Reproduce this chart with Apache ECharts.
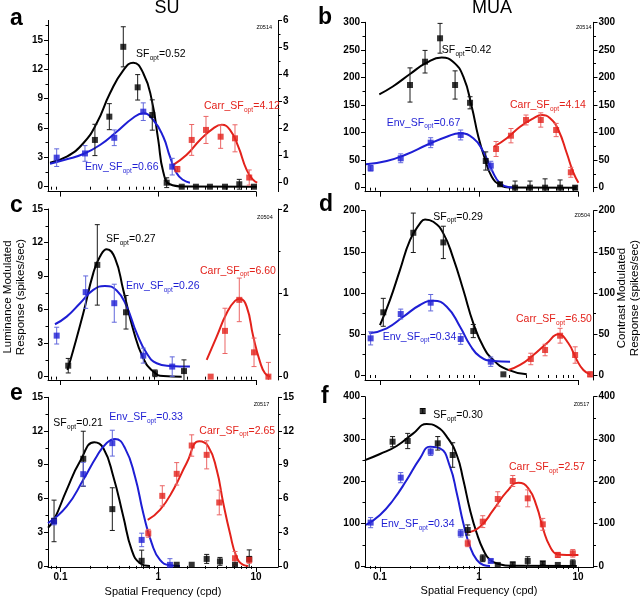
<!DOCTYPE html>
<html><head><meta charset="utf-8">
<script src="https://cdn.jsdelivr.net/npm/echarts@6/dist/echarts.min.js"></script>
<style>html,body{margin:0;padding:0;background:#fff}#c{width:640px;height:600px}</style>
</head><body><div id="c"></div>
<script>
// ---------------- DATA ----------------
// points: [spatial frequency (cpd), response, error]
const a_blackPts = [[0.225,4.78,1.6],[0.316,7.16,1.33],[0.439,14.3,2.05],[0.616,10.16,1.3],[0.869,7.33,1.55],[1.22,0.41,0.5],[1.74,0,0],[2.43,0,0],[3.38,0,0],[4.82,0,0],[6.75,0.25,0.5],[9.55,0,0]];
const a_bluePts  = [[0.0914,2.97,0.9],[0.178,3.4,0.8],[0.355,5.0,0.8],[0.703,7.67,0.9],[1.39,2.05,0.85]];
const a_redPts   = [[1.57,0.5,0.1],[2.2,1.58,0.57],[3.08,1.95,0.5],[4.35,1.7,0.43],[6.1,1.64,0.5],[8.53,0.19,0.28]];
const a_blackFit = [[0.0781,2.45],[0.1157,3.07],[0.171,4.44],[0.2344,6.48],[0.3207,9.55],[0.4388,11.9],[0.5556,12.68],[0.7031,11.6],[0.857,8.9],[1.0,4.78],[1.126,1.5],[1.318,0.25],[1.803,0.02],[10.2,0]];
const a_blueFit  = [[0.0781,2.35],[0.1157,2.8],[0.171,3.34],[0.2535,4.26],[0.3758,5.62],[0.5556,7.05],[0.7031,7.5],[0.89,6.82],[1.126,5.11],[1.318,3.07],[1.545,1.37],[1.803,0.68],[2.11,0.41]];
const a_redFit   = [[1.426,0.66],[1.954,1.03],[2.673,1.58],[3.66,2.01],[4.46,2.14],[5.42,1.95],[6.59,1.33],[8.03,0.47],[9.38,0.1],[10.3,0]];

const b_blackPts = [[0.201,186.3,31],[0.285,228.5,20.5],[0.404,271,27],[0.573,186.3,25.6],[0.811,154,11],[1.169,48.4,16.5],[1.63,6.2,3],[2.31,0,12],[3.27,0,12],[4.64,0,16],[6.58,0,14],[9.33,0,3]];
const b_bluePts  = [[0.0805,35.2,5],[0.162,53.3,8],[0.325,81.6,9],[0.653,95.6,9],[1.313,39.9,8]];
const b_redPts   = [[1.485,70.2,13.6],[2.1,94.3,13],[2.98,122.8,9],[4.2,122.8,13],[6.0,104.6,12],[8.44,27.9,9]];
const b_blackFit = [[0.0984,169.4],[0.136,184],[0.201,206.2],[0.296,226.7],[0.42,236],[0.55,228],[0.694,201.3],[0.844,146.9],[0.984,92.5],[1.15,51.5],[1.344,20],[1.63,4.9],[2.06,0.5],[9.7,0]];
const b_blueFit  = [[0.0722,42.4],[0.117,48.4],[0.186,60.6],[0.296,77.4],[0.472,92.5],[0.643,98.6],[0.875,89.6],[1.105,65.3],[1.344,32.1],[1.63,8],[2.06,0.7],[2.31,0]];
const b_redFit   = [[1.418,74.4],[1.905,89.6],[2.594,110.6],[3.535,125.9],[4.3,131.8],[5.21,125.9],[6.32,104.6],[7.69,62.4],[8.96,27.2],[10.07,9.1]];

const c_blackPts = [[0.120,0.98,0.65],[0.238,10.0,3.6],[0.468,5.76,1.5],[0.927,0.3,0.3],[1.834,0.5,1.0]];
const c_bluePts  = [[0.0914,3.67,0.75],[0.181,7.56,1.45],[0.355,6.57,1.7],[0.703,1.88,0.67],[1.39,0.9,0.87]];
const c_redPts   = [[3.44,0,0],[4.82,0.546,0.27],[6.75,0.916,0.26],[9.55,0.29,0.17],[13.4,0,0.17]];
const c_blackFit = [[0.1179,0.6],[0.1352,2.39],[0.171,5.67],[0.2166,9.26],[0.2536,10.74],[0.2972,11.4],[0.361,10.6],[0.4389,7.76],[0.5556,4.18],[0.7031,1.65],[0.89,0.45],[1.126,0.05],[1.738,0]];
const c_blueFit  = [[0.0878,4.69],[0.1157,5.37],[0.1585,6.57],[0.2166,7.76],[0.2852,8.12],[0.3758,7.7],[0.4756,6.27],[0.6018,3.89],[0.762,2.09],[0.964,1.2],[1.318,0.96],[2.11,0.9]];
const c_redFit   = [[3.131,0.2],[3.963,0.478],[5.01,0.757],[6.1,0.904],[6.86,0.925],[8.03,0.836],[9.38,0.478],[10.98,0.179],[12.36,0.04],[13.9,0]];

const d_blackPts = [[0.108,76.3,17],[0.217,173.1,24],[0.436,161.4,19.7],[0.875,53.5,8],[1.76,0.8,0]];
const d_bluePts  = [[0.0805,44.6,8],[0.162,74.2,6],[0.325,88,10],[0.653,43.8,6.5],[1.313,16.2,5.7]];
const d_redPts   = [[3.33,19.5,7],[4.64,30.4,7],[6.58,47.8,9],[9.33,24.3,10],[13.2,0.8,3]];
const d_blackFit = [[0.1,60.8],[0.126,91.2],[0.159,127.7],[0.201,164.2],[0.2535,184.5],[0.285,189.4],[0.3453,186.5],[0.436,172.4],[0.55,142],[0.694,103.4],[0.876,62.9],[1.105,34.4],[1.394,18.2],[1.905,6.9],[3.033,0.8]];
const d_blueFit  = [[0.078,50.7],[0.117,56.8],[0.172,70.9],[0.2535,85.2],[0.3453,90.4],[0.472,83.1],[0.643,58.8],[0.811,36.5],[1.023,22.3],[1.394,17],[2.056,16.2]];
const d_redFit   = [[1.977,6.1],[2.594,12.2],[3.535,24.3],[4.83,38.6],[6.32,49.5],[7.98,38.6],[9.7,18.2],[11.3,6.1],[13.2,0.8]];

const e_blackPts = [[0.0859,4.0,1.85],[0.171,9.53,2.45],[0.339,5.05,1.9],[0.677,0.45,0.95],[1.545,0.1,0],[2.2,0.1,0],[3.13,0.62,0.4],[4.28,0.4,0.35],[6.1,0.1,0],[8.53,0.62,0.8]];
const e_bluePts  = [[0.0859,3.95,0.3],[0.171,8.16,1.05],[0.339,10.92,1.15],[0.677,2.31,0.6],[1.318,0.09,0.55]];
const e_redPts   = [[0.791,2.9,0.35],[1.1,6.23,0.9],[1.545,8.19,1.0],[2.2,10.71,0.95],[3.13,9.88,1.25],[4.21,5.64,1.1],[6.1,0.68,0.6],[8.53,0.53,0.3]];
const e_blackFit = [[0.0745,3.4],[0.0859,4.1],[0.1157,6.77],[0.1585,9.3],[0.2218,11.0],[0.274,10.48],[0.347,7.96],[0.439,4.4],[0.535,1.43],[0.6505,0.24],[0.823,0]];
const e_blueFit  = [[0.0745,3.8],[0.1157,5.29],[0.171,7.66],[0.2344,9.74],[0.297,10.93],[0.361,11.29],[0.457,10.48],[0.578,7.96],[0.703,4.69],[0.857,2.02],[1.042,0.53],[1.318,0.06],[1.669,0]];
const e_redFit   = [[0.78,4.1],[1.042,4.99],[1.426,6.77],[1.954,9.15],[2.63,11.08],[3.25,10.63],[3.963,8.55],[4.63,5.58],[5.42,2.91],[6.31,0.83],[7.41,0.09],[8.34,0]];

const f_blackPts = [[0.134,293.7,12],[0.1905,295.3,18],[0.27,366.1,6],[0.383,289.8,16],[0.542,262.2,29],[0.769,85,12],[1.09,18.1,8],[1.545,2.4,0],[2.19,3.9,5],[3.1,11.8,10],[4.4,6.3,4],[6.24,2.4,0],[8.84,6.3,8]];
const f_bluePts  = [[0.0805,102.4,12],[0.162,208.7,12],[0.325,270,9],[0.653,77.2,9],[1.313,11.8,4]];
const f_redPts   = [[0.769,53.5,8],[1.09,104.7,14],[1.545,158.3,17],[2.19,200.8,13],[3.1,159.8,20],[4.4,98.4,14],[6.24,26,6],[8.84,29.9,9]];
const f_blackFit = [[0.0706,250],[0.1,264.6],[0.1475,283.5],[0.217,313.4],[0.296,335.4],[0.374,329.1],[0.472,305.5],[0.596,262.2],[0.694,203.1],[0.811,132.3],[0.948,77.2],[1.105,37.8],[1.291,14.2],[1.63,3.9],[2.06,0.3],[9.7,0]];
const f_blueFit  = [[0.0722,96.9],[0.1,120.5],[0.136,155.9],[0.186,203.1],[0.2535,254.3],[0.32,281.9],[0.404,278],[0.509,234.6],[0.596,171.7],[0.694,100.8],[0.811,45.7],[0.948,14.2],[1.105,2.4],[1.291,0]];
const f_redFit   = [[0.751,78.7],[1.023,92.9],[1.394,132.3],[1.905,175.6],[2.494,196.9],[3.147,183.5],[3.827,140.2],[4.465,85],[5.21,45.7],[6.1,28.3],[7.69,26],[10.07,26]];

// tick labels
const xMajorTicks = [0.1, 1, 10];
const xMinorTicks = [0.08,0.09,0.2,0.3,0.4,0.5,0.6,0.7,0.8,0.9,2,3,4,5,6,7,8,9];
const yTicks15 = [0,3,6,9,12,15];
const yTicks6 = [0,1,2,3,4,5,6];
const yTicks2 = [0,1,2];
const yTicks300 = [0,50,100,150,200,250,300];
const yTicks200 = [0,50,100,150,200];
const yTicks400 = [0,100,200,300,400];

// annotation texts
const sfLabels = [
  ['0.52','0.66','4.12','Z0514'],
  ['0.42','0.67','4.14','Z0514'],
  ['0.27','0.26','6.60','Z0504'],
  ['0.29','0.34','6.50','Z0504'],
  ['0.21','0.33','2.65','Z0517'],
  ['0.30','0.34','2.57','Z0517']
];

// ---------------- LAYOUT / STYLE ----------------
const FONT = '"Liberation Sans", Arial, Helvetica, sans-serif';
const C_BLACK = '#000000', C_BLUE = '#1e1ed4', C_RED = '#e3221b';
const E_BLACK = '#1a1a1a', E_BLUE = '#6167dc', E_RED = '#eb6565';
const MAIN_SIZE = 10.5, SUB_SIZE = 6.5;
const X_LINE_END = 10; // upper rows: x axis line stops at 10 cpd

const panels = [
  {L:'a', grid:{left:48, top:20.4, width:230, height:171.2}, xr:[0.0745,16.8],
   yl:{min:-0.5,max:17,step:3,ticks:yTicks15}, yr:{min:-0.33,max:6,step:1,ticks:yTicks6},
   bk:[a_blackPts,a_blackFit], bl:[a_bluePts,a_blueFit], rd:[a_redPts,a_redFit], xl:false,
   letter:[10,19], txt:[[136,54],[85,167],[204,106],[272,27.7]]},
  {L:'b', grid:{left:365, top:22.3, width:228.5, height:169.4}, xr:[0.0706,14.3],
   yl:{min:-7.3,max:300,step:50,ticks:yTicks300}, yr:{min:-7.3,max:300,step:50,ticks:yTicks300},
   bk:[b_blackPts,b_blackFit], bl:[b_bluePts,b_blueFit], rd:[b_redPts,b_redFit], xl:false,
   letter:[318,18], txt:[[441.7,50],[386.7,122.7],[510,105],[591.5,27.7]]},
  {L:'c', grid:{left:48, top:209, width:230, height:171}, xr:[0.0745,16.8],
   yl:{min:-0.3,max:15,step:3,ticks:yTicks15}, yr:{min:-0.04,max:2,step:1,ticks:yTicks2},
   bk:[c_blackPts,c_blackFit], bl:[c_bluePts,c_blueFit], rd:[c_redPts,c_redFit], xl:false,
   letter:[10,205.5], txt:[[106,239.3],[126,286],[200,270.7],[272.7,217.7]]},
  {L:'d', grid:{left:365, top:210.7, width:228.5, height:169.3}, xr:[0.0706,14.3],
   yl:{min:-6.1,max:200,step:50,ticks:yTicks200}, yr:{min:-6.1,max:200,step:50,ticks:yTicks200},
   bk:[d_blackPts,d_blackFit], bl:[d_bluePts,d_blueFit], rd:[d_redPts,d_redFit], xl:false,
   letter:[319,205], txt:[[433.3,216.7],[382.7,336.7],[516,319.3],[590,215]]},
  {L:'e', grid:{left:48, top:397.3, width:230, height:169.7}, xr:[0.0745,16.8],
   yl:{min:-0.1,max:15,step:3,ticks:yTicks15}, yr:{min:-0.1,max:15,step:3,ticks:yTicks15},
   bk:[e_blackPts,e_blackFit], bl:[e_bluePts,e_blueFit], rd:[e_redPts,e_redFit], xl:true,
   letter:[10,394], txt:[[53.3,423.3],[109.3,417.3],[199.3,430.7],[269.3,404]]},
  {L:'f', grid:{left:365, top:396.7, width:228.5, height:170.1}, xr:[0.0706,14.3],
   yl:{min:-2,max:400,step:100,ticks:yTicks400}, yr:{min:-2,max:400,step:100,ticks:yTicks400},
   bk:[f_blackPts,f_blackFit], bl:[f_bluePts,f_blueFit], rd:[f_redPts,f_redFit], xl:true,
   letter:[321,397], txt:[[433.3,415],[381,524],[509,467.3],[589.3,404]]}
];

const grids=[], xAxes=[], yAxes=[], series=[], graphics=[];
const extraGrids=[], extraX=[], extraY=[];

function fmtNum(v){ return String(+Number(v).toPrecision(3)); }

const mctx = document.createElement('canvas').getContext('2d');
function textWidth(t, size){ mctx.font = size + 'px "Liberation Sans", Arial, sans-serif'; return mctx.measureText(t).width; }

function yAxisCfg(gi, spec, pos){
  return {
    type:'value', gridIndex:gi, position:pos, min:spec.min, max:spec.max,
    minInterval:spec.step, maxInterval:spec.step, splitNumber:6,
    axisLine:{show:true, onZero:false, lineStyle:{color:'#000', width:1}},
    axisTick:{show:true, length:4, customValues:spec.ticks, lineStyle:{color:'#000', width:1}},
    minorTick:{show:true, splitNumber:2, length:2.5, lineStyle:{color:'#000', width:1}},
    splitLine:{show:false}, minorSplitLine:{show:false},
    axisLabel:{show:true, customValues:spec.ticks, margin:5, color:'#000', fontSize:10, fontWeight:'bold', fontFamily:FONT,
      formatter:(v)=>fmtNum(v)}
  };
}

function errRender(color){
  return function(params, api){
    const x = api.value(0), y = api.value(1), e = api.value(2);
    if (!e) return null;
    const cs = params.coordSys;
    const bottom = cs.y + cs.height;
    const p1 = api.coord([x, y + e]);
    const p2 = api.coord([x, y - e]);
    const clipped = p2[1] > bottom;
    const yb = Math.min(p2[1], bottom);
    const w = 2.5;
    const st = {stroke:color, lineWidth:1};
    const ch = [
      {type:'line', shape:{x1:p1[0], y1:p1[1], x2:p1[0], y2:yb}, style:st},
      {type:'line', shape:{x1:p1[0]-w, y1:p1[1], x2:p1[0]+w, y2:p1[1]}, style:st}
    ];
    if (!clipped) ch.push({type:'line', shape:{x1:p2[0]-w, y1:p2[1], x2:p2[0]+w, y2:p2[1]}, style:st});
    return {type:'group', children:ch};
  };
}

function addSet(i, yi, set, color, ecolor){
  const pts = set[0], fit = set[1];
  series.push({type:'line', xAxisIndex:2*i, yAxisIndex:yi, data:fit, smooth:0.5,
    symbol:'none', silent:true, z:2, lineStyle:{color:color, width:2}});
  series.push({type:'custom', xAxisIndex:2*i, yAxisIndex:yi, data:pts, silent:true, z:3,
    encode:{x:0, y:1}, renderItem:errRender(ecolor)});
  series.push({type:'scatter', xAxisIndex:2*i, yAxisIndex:yi, data:pts.map(p=>[p[0],p[1]]), silent:true, z:4,
    symbol:'rect', symbolSize:6, itemStyle:{color:color}});
}

function txt(x, y, s, size, color, align, extra){
  return Object.assign({type:'text', x:x, y:y, silent:true, z:50,
    style:{text:s, fill:color, fontSize:size, fontFamily:FONT, align:align, verticalAlign:'middle',
      textAlign:align, textVerticalAlign:'middle'}}, extra||{});
}

function subText(x, y, prefix, val, color){
  const w1 = textWidth(prefix, MAIN_SIZE);
  const w2 = textWidth('opt', SUB_SIZE);
  graphics.push(txt(x, y, prefix, MAIN_SIZE, color, 'left'));
  graphics.push(txt(x + w1 + 0.3, y + 4, 'opt', SUB_SIZE, color, 'left'));
  graphics.push(txt(x + w1 + w2 + 0.6, y, '=' + val, MAIN_SIZE, color, 'left'));
}

panels.forEach((p, i) => {
  grids.push(Object.assign({containLabel:false, outerBoundsMode:'none'}, p.grid));
  xAxes.push({type:'log', logBase:10, gridIndex:i, position:'bottom', min:p.xr[0], max:p.xr[1],
    axisLine:{show:p.xl, onZero:false, lineStyle:{color:'#000', width:1}},
    axisTick:{show:true, length:5, customValues:xMajorTicks, lineStyle:{color:'#000', width:1}},
    minorTick:{show:false}, splitLine:{show:false},
    axisLabel:{show:p.xl, customValues:xMajorTicks, margin:5, color:'#000', fontSize:10, fontWeight:'bold', fontFamily:FONT,
      formatter:(v)=>fmtNum(v)}});
  xAxes.push({type:'log', logBase:10, gridIndex:i, position:'bottom', min:p.xr[0], max:p.xr[1],
    axisLine:{show:false}, splitLine:{show:false}, minorTick:{show:false},
    axisTick:{show:true, length:3, customValues:xMinorTicks, lineStyle:{color:'#000', width:1}},
    axisLabel:{show:false}});
  yAxes.push(yAxisCfg(i, p.yl, 'left'));
  yAxes.push(yAxisCfg(i, p.yr, 'right'));
  addSet(i, 2*i, p.bk, C_BLACK, E_BLACK);
  addSet(i, 2*i, p.bl, C_BLUE, E_BLUE);
  addSet(i, 2*i+1, p.rd, C_RED, E_RED);

  if (!p.xl) {
    // shorter grid for the axis line only (layout: ends at X_LINE_END on the same log scale)
    const lg = Math.log10;
    const frac = (lg(X_LINE_END) - lg(p.xr[0])) / (lg(p.xr[1]) - lg(p.xr[0]));
    extraGrids.push({containLabel:false, outerBoundsMode:'none', left:p.grid.left, top:p.grid.top,
      height:p.grid.height, width:p.grid.width * frac});
    const gi = 6 + extraGrids.length - 1;
    extraX.push({type:'log', logBase:10, gridIndex:gi, position:'bottom', min:p.xr[0], max:X_LINE_END,
      axisLine:{show:true, onZero:false, lineStyle:{color:'#000', width:1}},
      axisTick:{show:false}, axisLabel:{show:false}, splitLine:{show:false}});
    extraY.push({type:'value', gridIndex:gi, show:false, min:0, max:1});
  }

  const t = p.txt, lab = sfLabels[i];
  subText(t[0][0], t[0][1], 'SF', lab[0], C_BLACK);
  subText(t[1][0], t[1][1], 'Env_SF', lab[1], C_BLUE);
  subText(t[2][0], t[2][1], 'Carr_SF', lab[2], C_RED);
  graphics.push(txt(t[3][0], t[3][1], lab[3], 5.5, '#000', 'right'));
  graphics.push({type:'text', x:p.letter[0], y:p.letter[1], silent:true,
    style:{text:p.L, fill:'#000', fontSize:23, fontWeight:'bold', fontFamily:FONT, align:'left', verticalAlign:'middle', textAlign:'left', textVerticalAlign:'middle'}});
});

// titles and axis names
graphics.push(txt(167, 8.5, 'SU', 18, '#000', 'center'));
graphics.push(txt(492, 8.5, 'MUA', 18, '#000', 'center'));
graphics.push(txt(163, 592, 'Spatial Frequency (cpd)', 11, '#000', 'center'));
graphics.push(txt(479, 591, 'Spatial Frequency (cpd)', 11, '#000', 'center'));
graphics.push(txt(8, 297, 'Luminance Modulated', 11.5, '#000', 'center', {rotation:Math.PI/2}));
graphics.push(txt(21, 297, 'Response (spikes/sec)', 11.5, '#000', 'center', {rotation:Math.PI/2}));
graphics.push(txt(622, 298, 'Contrast Modulated', 11.5, '#000', 'center', {rotation:Math.PI/2}));
graphics.push(txt(635, 298, 'Response (spikes/sec)', 11.5, '#000', 'center', {rotation:Math.PI/2}));

const chart = echarts.init(document.getElementById('c'), null, {renderer:'canvas'});
chart.setOption({
  animation:false,
  backgroundColor:'#ffffff',
  textStyle:{fontFamily:FONT},
  grid:grids.concat(extraGrids), xAxis:xAxes.concat(extraX), yAxis:yAxes.concat(extraY),
  series:series, graphic:graphics
});
</script>
</body></html>
